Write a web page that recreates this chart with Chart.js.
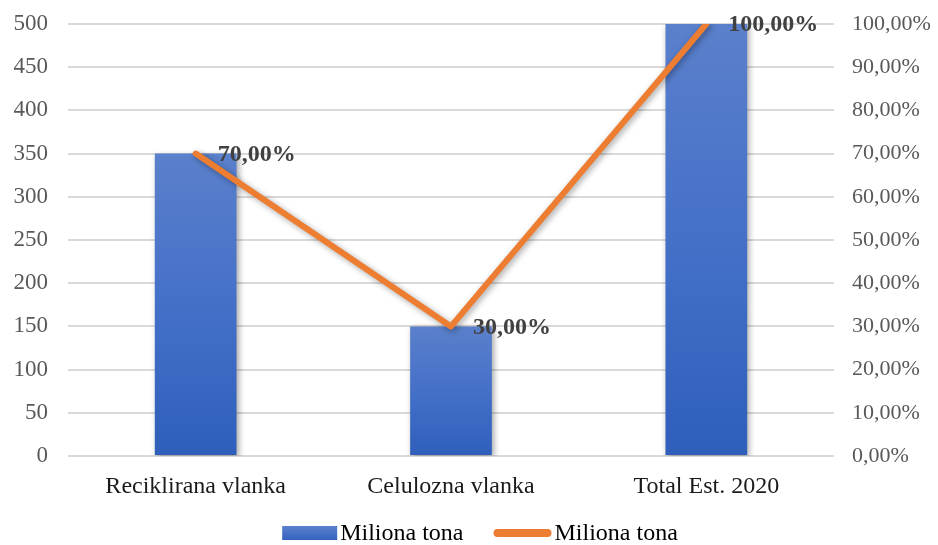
<!DOCTYPE html>
<html>
<head>
<meta charset="utf-8">
<script src="https://cdn.jsdelivr.net/npm/chart.js@4.4.1/dist/chart.umd.min.js"></script>
<style>
  html, body { margin: 0; padding: 0; background: #fff; }
  #wrap { width: 938px; height: 545px; }
</style>
</head>
<body>
<div id="wrap"><canvas id="chart" width="938" height="545"></canvas></div>
<script>
const categories = ['Reciklirana vlanka', 'Celulozna vlanka', 'Total Est. 2020'];
const tonnes = [350, 150, 500];
const shares = [70, 30, 100];
const seriesNames = ['Miliona tona', 'Miliona tona'];

const FONT = "'Liberation Serif', 'Times New Roman', serif";

function fmtPct(v) {
  return v.toFixed(2).replace('.', ',') + '%';
}

// vertical gradient per bar, lighter at the top
function barFill(ctx) {
  const chart = ctx.chart;
  if (ctx.type !== 'data' || !chart.chartArea) return '#4472c4';
  const y = chart.scales.y;
  const top = y.getPixelForValue(ctx.raw);
  const base = y.getPixelForValue(0);
  if (!isFinite(top) || top === base) return '#4472c4';
  const g = chart.ctx.createLinearGradient(0, top, 0, base);
  g.addColorStop(0, '#5b80cc');
  g.addColorStop(0.5, '#4470c8');
  g.addColorStop(1, '#2f5fbb');
  return g;
}

const shadow = {
  id: 'shadow',
  beforeDatasetsDraw(chart) {
    const c = chart.ctx;
    c.save();
    c.shadowColor = 'rgba(0,0,0,0.35)';
    c.shadowBlur = 6;
    c.shadowOffsetX = 2;
    c.shadowOffsetY = 2;
  },
  afterDatasetsDraw(chart) {
    chart.ctx.restore();
  }
};

// bold value labels to the right of each line point
const pointLabels = {
  id: 'pointLabels',
  afterDatasetsDraw(chart) {
    const c = chart.ctx;
    const meta = chart.getDatasetMeta(0);
    c.save();
    c.font = 'bold 24px ' + FONT;
    c.fillStyle = '#404040';
    c.textAlign = 'left';
    c.textBaseline = 'middle';
    meta.data.forEach((pt, i) => {
      c.fillText(fmtPct(shares[i]), pt.x + 22, pt.y + 1);
    });
    c.restore();
  }
};

// legend under the axis: blue swatch + orange line, text close to each key
const bottomLegend = {
  id: 'bottomLegend',
  afterDraw(chart) {
    const c = chart.ctx;
    const y = 533;
    const boxW = 55, lineW = 54, gap = 3, between = 30;
    c.save();
    c.font = '24px ' + FONT;
    const w0 = c.measureText(seriesNames[0]).width;
    const w1 = c.measureText(seriesNames[1]).width;
    const total = boxW + gap + w0 + between + lineW + gap + 4 + w1;
    let x = 480 - total / 2;

    const g = c.createLinearGradient(0, y - 7, 0, y + 7);
    g.addColorStop(0, '#5b80cc');
    g.addColorStop(1, '#3563bf');
    c.fillStyle = g;
    c.fillRect(x, y - 7, boxW, 14);
    x += boxW + gap;

    c.fillStyle = '#000';
    c.textAlign = 'left';
    c.textBaseline = 'middle';
    c.fillText(seriesNames[0], x, y + 1);
    x += w0 + between;

    c.strokeStyle = '#ed7d31';
    c.lineWidth = 8;
    c.lineCap = 'round';
    c.beginPath();
    c.moveTo(x + 4, y);
    c.lineTo(x + lineW, y);
    c.stroke();
    x += lineW + gap + 4;

    c.fillText(seriesNames[1], x, y + 1);
    c.restore();
  }
};

// vertical axes: fixed widths, no extra room above the top tick
function fitY(width) {
  return scale => {
    scale.width = width;
    scale.paddingTop = 0;
    scale.paddingBottom = 0;
  };
}

new Chart(document.getElementById('chart'), {
  data: {
    labels: categories,
    datasets: [{
      type: 'line',
      label: seriesNames[1],
      data: shares,
      yAxisID: 'y1',
      borderColor: '#ed7d31',
      backgroundColor: '#ed7d31',
      borderWidth: 6,
      borderCapStyle: 'round',
      borderJoinStyle: 'round',
      pointRadius: 0,
      pointHoverRadius: 0,
      tension: 0,
      order: 0
    }, {
      type: 'bar',
      label: seriesNames[0],
      data: tonnes,
      yAxisID: 'y',
      backgroundColor: barFill,
      barPercentage: 0.64,
      categoryPercentage: 0.5,
      order: 1
    }]
  },
  options: {
    responsive: false,
    animation: false,
    layout: { padding: { top: 24, left: 0, right: 0, bottom: 0 } },
    plugins: {
      tooltip: { enabled: false },
      legend: { display: false }
    },
    scales: {
      x: {
        grid: { display: false },
        border: { display: false },
        ticks: { color: '#1a1a1a', font: { family: FONT, size: 24 }, padding: 8 },
        afterFit(scale) { scale.height = 89; }
      },
      y: {
        position: 'left',
        min: 0,
        max: 500,
        ticks: { stepSize: 50, color: '#595959', font: { family: FONT, size: 23 }, padding: 20 },
        grid: { color: '#d9d9d9', lineWidth: 2, drawTicks: false },
        border: { display: false },
        afterFit: fitY(68)
      },
      y1: {
        position: 'right',
        min: 0,
        max: 100,
        ticks: { stepSize: 10, color: '#595959', font: { family: FONT, size: 22 }, padding: 18, callback: v => fmtPct(v) },
        grid: { display: false, drawTicks: false },
        border: { display: false },
        afterFit: fitY(104)
      }
    }
  },
  plugins: [shadow, pointLabels, bottomLegend]
});
</script>
</body>
</html>
